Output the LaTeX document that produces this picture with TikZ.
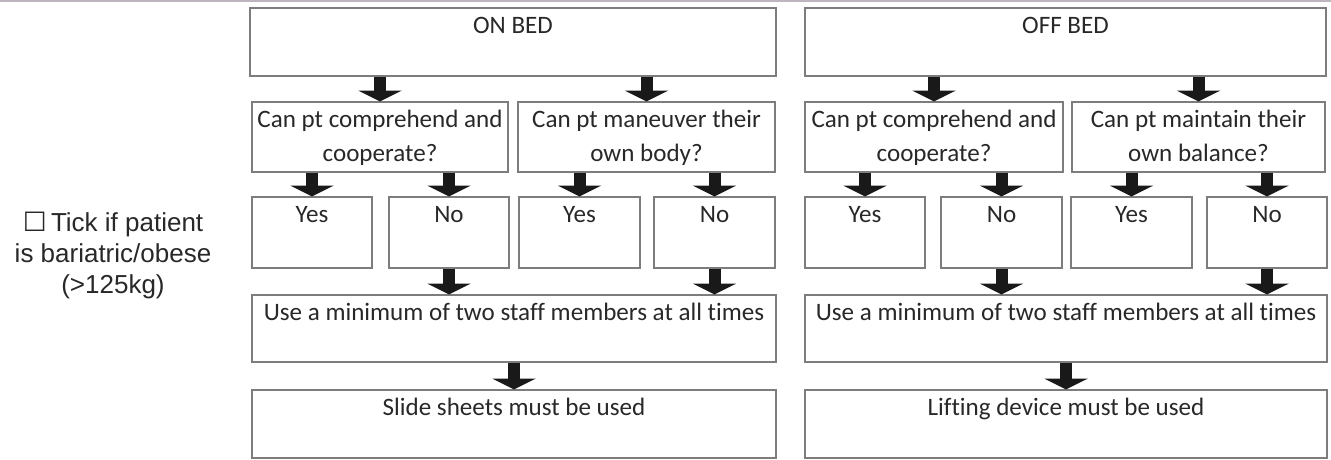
\documentclass[tikz,border=0pt]{standalone}
\usepackage{fontspec}
\setmainfont{Carlito}[Ligatures=NoCommon]
\newfontfamily\arialf{Liberation Sans}
\newfontfamily\dejavu{DejaVu Sans}
\usetikzlibrary{arrows.meta,fit}
\definecolor{boxgray}{RGB}{125,125,125}
\definecolor{txtgray}{RGB}{40,40,40}
\definecolor{arrowblk}{RGB}{25,25,25}
\definecolor{toplinec}{RGB}{190,180,190}
\begin{document}
\begin{tikzpicture}[x=0.75pt,y=-0.75pt,
  box/.style={draw=boxgray, line width=0.9pt, rectangle, inner sep=0pt},
  txt/.style={anchor=north, inner sep=0pt, align=center, text=txtgray, yshift=-1.8pt,
    font=\fontsize{18.8}{25.3}\selectfont},
  blk/.style={draw=arrowblk, line width=9pt, -{Triangle[width=32pt,length=8pt]}}]
\useasboundingbox (0,0) rectangle (1331,460);
\draw[toplinec, line width=1.2pt] (0,1) -- (1331,1);
% boxes
\node[box, fit={(250,8) (776,76)}] (on) {};
\node[box, fit={(805,8) (1326,76)}] (off) {};
\node[box, fit={(252,102) (508,172)}] (q1) {};
\node[box, fit={(518,102) (775,172)}] (q2) {};
\node[box, fit={(805,102) (1063,172)}] (q3) {};
\node[box, fit={(1072,102) (1325,172)}] (q4) {};
\node[box, fit={(252,197) (372,268)}] (y1) {};
\node[box, fit={(389,197) (509,268)}] (n1) {};
\node[box, fit={(519,197) (640,268)}] (y2) {};
\node[box, fit={(654,197) (775,268)}] (n2) {};
\node[box, fit={(805,197) (925,268)}] (y3) {};
\node[box, fit={(941,197) (1062,268)}] (n3) {};
\node[box, fit={(1071,197) (1192,268)}] (y4) {};
\node[box, fit={(1207,197) (1327,268)}] (n4) {};
\node[box, fit={(252,295) (776,362)}] (u1) {};
\node[box, fit={(805,295) (1327,362)}] (u2) {};
\node[box, fit={(252,390) (776,458)}] (s1) {};
\node[box, fit={(805,390) (1327,458)}] (s2) {};
% texts
\node[txt] (ont) at (on.north) {\strut ON BED};
\node[txt] (offt) at (off.north) {\strut OFF BED};
\node[txt] (q1t) at (q1.north) {\strut Can pt comprehend and\\cooperate?};
\node[txt] (q2t) at (q2.north) {\strut Can pt maneuver their\\own body?};
\node[txt] (q3t) at (q3.north) {\strut Can pt comprehend and\\cooperate?};
\node[txt] (q4t) at (q4.north) {\strut Can pt maintain their\\own balance?};
\node[txt] (y1t) at (y1.north) {\strut Yes};
\node[txt] (n1t) at (n1.north) {\strut No};
\node[txt] (y2t) at (y2.north) {\strut Yes};
\node[txt] (n2t) at (n2.north) {\strut No};
\node[txt] (y3t) at (y3.north) {\strut Yes};
\node[txt] (n3t) at (n3.north) {\strut No};
\node[txt] (y4t) at (y4.north) {\strut Yes};
\node[txt] (n4t) at (n4.north) {\strut No};
\node[txt] (u1t) at (u1.north) {\strut Use a minimum of two staff members at all times};
\node[txt] (u2t) at (u2.north) {\strut Use a minimum of two staff members at all times};
\node[txt] (s1t) at (s1.north) {\strut Slide sheets must be used};
\node[txt] (s2t) at (s2.north) {\strut Lifting device must be used};
% left note
\node[anchor=north, inner sep=0pt, align=center, text=txtgray,
  font=\arialf\fontsize{19.5}{23.25}\selectfont] (note) at (113,210)
  {\strut{\dejavu\fontsize{20}{23.25}\selectfont ☐}\,Tick if patient\\is bariatric/obese\\(>125kg)};
% arrows
\draw[blk] (on.south -| q1.north) -- (q1.north);
\draw[blk] (on.south -| q2.north) -- (q2.north);
\draw[blk] (off.south -| q3.north) -- (q3.north);
\draw[blk] (off.south -| q4.north) -- (q4.north);
\draw[blk] (q1.south -| y1.north) -- (y1.north);
\draw[blk] (q1.south -| n1.north) -- (n1.north);
\draw[blk] (q2.south -| y2.north) -- (y2.north);
\draw[blk] (q2.south -| n2.north) -- (n2.north);
\draw[blk] (q3.south -| y3.north) -- (y3.north);
\draw[blk] (q3.south -| n3.north) -- (n3.north);
\draw[blk] (q4.south -| y4.north) -- (y4.north);
\draw[blk] (q4.south -| n4.north) -- (n4.north);
\draw[blk] (n1.south) -- (n1.south |- u1.north);
\draw[blk] (n2.south) -- (n2.south |- u1.north);
\draw[blk] (n3.south) -- (n3.south |- u2.north);
\draw[blk] (n4.south) -- (n4.south |- u2.north);
\draw[blk] (u1.south) -- (s1.north);
\draw[blk] (u2.south) -- (s2.north);
\end{tikzpicture}
\end{document}
